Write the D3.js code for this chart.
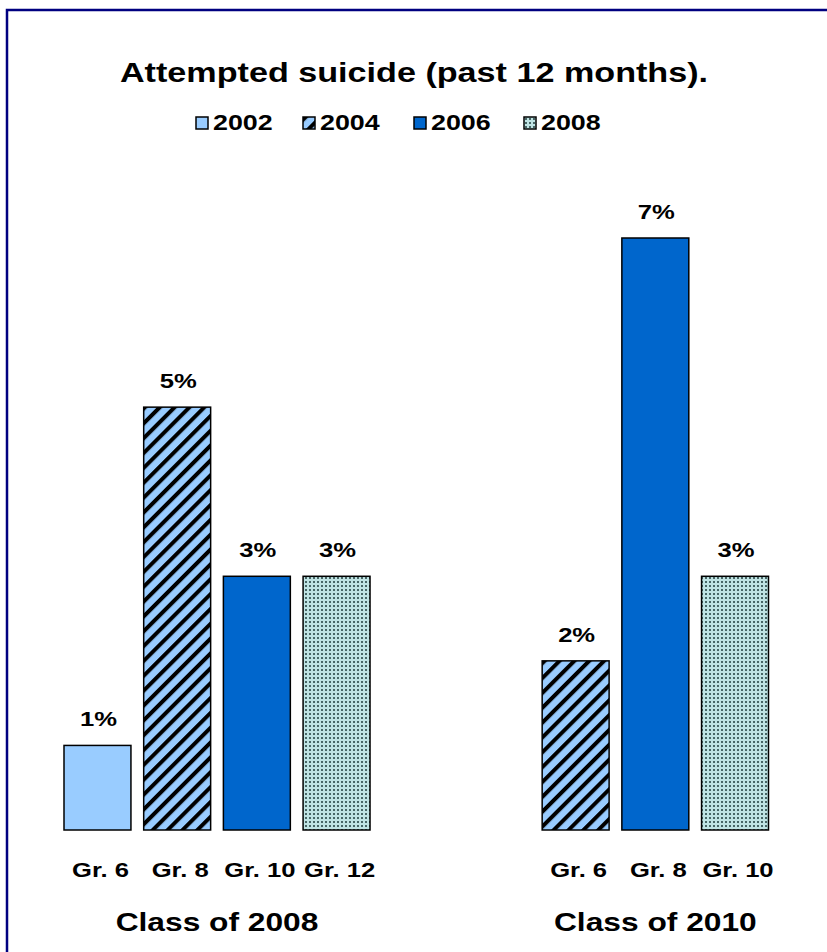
<!DOCTYPE html>
<html>
<head>
<meta charset="utf-8">
<script src="https://cdn.jsdelivr.net/npm/d3@7"></script>
<style>
  body { margin: 0; background: #fff; }
  svg { display: block; font-family: "Liberation Sans", Arial, sans-serif; font-weight: bold; }
</style>
</head>
<body>
<svg id="chart"></svg>
<script>
// chart values
let classNames = ['Class of 2008', 'Class of 2010']
let grades2008 = ['Gr. 6', 'Gr. 8', 'Gr. 10', 'Gr. 12']
let years2008 = ['2002', '2004', '2006', '2008']
let values2008 = [1, 5, 3, 3]
let grades2010 = ['Gr. 6', 'Gr. 8', 'Gr. 10']
let years2010 = ['2004', '2006', '2008']
let values2010 = [2, 7, 3]
let legendYears = ['2002', '2004', '2006', '2008']
let titleText = 'Attempted suicide (past 12 months).'

let width = 827
let height = 952
let baseY = 830
let stretch = 1.22   // the original text is drawn a little wide

let svg = d3.select('#chart').attr('width', width).attr('height', height)

// build rows from the arrays
let rows = []
grades2008.forEach((g, i) => rows.push({ key: 'a' + i, cls: 0, grade: g, year: years2008[i], value: values2008[i] }))
grades2010.forEach((g, i) => rows.push({ key: 'b' + i, cls: 1, grade: g, year: years2010[i], value: values2010[i] }))

let slots = ['a0', 'a1', 'a2', 'a3', 'gap1', 'gap2', 'b0', 'b1', 'b2']

let xScale = d3.scaleBand().domain(slots).range([64, 768.5]).paddingInner(0.16).paddingOuter(0)
let yScale = d3.scaleLinear().domain([0, 7]).range([baseY, 238])

let place = (x, y) => 'translate(' + x + ',' + y + ') scale(' + stretch + ',1)'

// patterns
let defs = svg.append('defs')
let stripe = defs.append('pattern')
  .attr('id', 'stripe').attr('patternUnits', 'userSpaceOnUse')
  .attr('width', 10.5).attr('height', 10.5)
  .attr('patternTransform', 'rotate(45)')
stripe.append('rect').attr('width', 10.5).attr('height', 10.5).attr('fill', '#99ccff')
stripe.append('rect').attr('width', 4).attr('height', 10.5).attr('fill', '#000')

let dots = defs.append('pattern')
  .attr('id', 'dots').attr('patternUnits', 'userSpaceOnUse')
  .attr('width', 4).attr('height', 4)
dots.append('rect').attr('width', 4).attr('height', 4).attr('fill', '#bfe3e3')
dots.append('rect').attr('x', 1).attr('y', 1).attr('width', 2).attr('height', 2).attr('fill', '#476666')

let fills = { '2002': '#99ccff', '2004': 'url(#stripe)', '2006': '#0066cc', '2008': 'url(#dots)' }

// frame
svg.append('rect')
  .attr('x', 7).attr('y', 10).attr('width', 860).attr('height', 980)
  .attr('fill', 'none').attr('stroke', '#000080').attr('stroke-width', 2.5)

// title
svg.append('text')
  .attr('transform', place(414, 82))
  .attr('text-anchor', 'middle')
  .style('font-size', '28px')
  .text(titleText)

// legend
let legendX = [196, 303, 414, 524]
let legend = svg.selectAll('.legend')
  .data(legendYears)
  .enter()
  .append('g')
  .attr('class', 'legend')
  .attr('transform', (d, i) => 'translate(' + legendX[i] + ', 117)')
legend.append('rect')
  .attr('width', 12).attr('height', 12)
  .attr('fill', (d) => fills[d])
  .attr('stroke', '#000').attr('stroke-width', 1.5)
legend.append('text')
  .attr('transform', place(17, 13))
  .style('font-size', '22px')
  .text((d) => d)

// bars
svg.selectAll('.bar')
  .data(rows)
  .enter()
  .append('rect')
  .attr('class', 'bar')
  .attr('x', (d) => xScale(d.key))
  .attr('y', (d) => yScale(d.value))
  .attr('width', xScale.bandwidth())
  .attr('height', (d) => baseY - yScale(d.value))
  .attr('fill', (d) => fills[d.year])
  .attr('stroke', '#000').attr('stroke-width', 1.5)

// value labels
svg.selectAll('.val')
  .data(rows)
  .enter()
  .append('text')
  .attr('class', 'val')
  .attr('transform', (d) => place(xScale(d.key) + xScale.bandwidth() / 2 + 1, yScale(d.value) - 19))
  .attr('text-anchor', 'middle')
  .style('font-size', '21px')
  .text((d) => d.value + '%')

// grade labels
svg.selectAll('.grade')
  .data(rows)
  .enter()
  .append('text')
  .attr('class', 'grade')
  .attr('transform', (d) => place(xScale(d.key) + xScale.bandwidth() / 2 + 3, 877))
  .attr('text-anchor', 'middle')
  .style('font-size', '21px')
  .text((d) => d.grade)

// class labels
svg.selectAll('.cls')
  .data(classNames)
  .enter()
  .append('text')
  .attr('class', 'cls')
  .attr('transform', (d, i) => {
    let keys = rows.filter((r) => r.cls === i).map((r) => r.key)
    let cx = (xScale(keys[0]) + xScale(keys[keys.length - 1]) + xScale.bandwidth()) / 2
    return place(cx, 931)
  })
  .attr('text-anchor', 'middle')
  .style('font-size', '26px')
  .text((d) => d)
</script>
</body>
</html>
